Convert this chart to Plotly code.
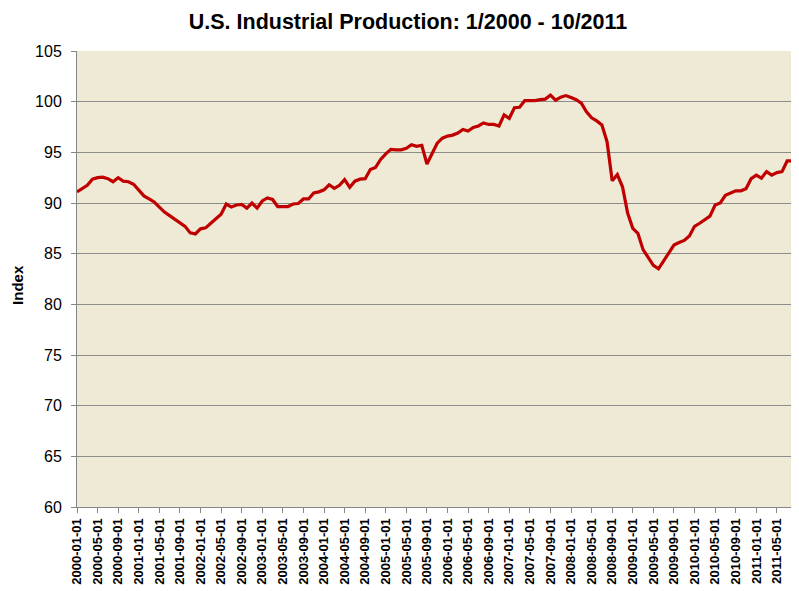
import plotly.graph_objects as go

# Monthly categories 2000-01 .. 2011-10
years = list(range(2000, 2012))
months = [f"{y}-{m:02d}-01" for y in years for m in range(1, 13)][:142]

# Industrial production index
index_values = [
    91.1, 91.4, 91.75, 92.35, 92.5, 92.55, 92.4, 92.1, 92.5, 92.15, 92.1, 91.85,   # 2000
    91.3, 90.7, 90.4, 90.1, 89.6, 89.1, 88.75, 88.4, 88.1, 87.7, 87.05, 86.95,     # 2001
    87.45, 87.55, 88.0, 88.4, 88.9, 89.9, 89.6, 89.8, 89.85, 89.5, 90.0, 89.5,     # 2002
    90.2, 90.5, 90.35, 89.65, 89.65, 89.65, 89.9, 89.95, 90.4, 90.4, 91.0, 91.1,   # 2003
    91.3, 91.8, 91.45, 91.75, 92.3, 91.55, 92.15, 92.35, 92.4, 93.3, 93.5, 94.3,   # 2004
    94.85, 95.3, 95.25, 95.25, 95.4, 95.75, 95.6, 95.7, 93.85, 94.9, 95.9, 96.4,   # 2005
    96.6, 96.7, 96.9, 97.25, 97.1, 97.45, 97.6, 97.9, 97.75, 97.75, 97.6, 98.7,    # 2006
    98.35, 99.4, 99.45, 100.1, 100.1, 100.1, 100.2, 100.25, 100.65, 100.15, 100.45, 100.6,  # 2007
    100.4, 100.2, 99.85, 99.0, 98.4, 98.1, 97.7, 96.05, 92.2, 92.8, 91.6, 89.0,    # 2008
    87.5, 87.0, 85.4, 84.6, 83.85, 83.5, 84.3, 85.1, 85.85, 86.1, 86.3, 86.75,     # 2009
    87.7, 88.0, 88.4, 88.7, 89.8, 90.0, 90.75, 90.95, 91.2, 91.2, 91.4, 92.4,      # 2010
    92.75, 92.45, 93.1, 92.75, 93.0, 93.1, 94.15, 94.15, 94.1, 94.1,               # 2011
]

tick_labels = months[::4]
y_ticks = list(range(60, 106, 5))

# page body has an 8px default margin, so the figure is offset by 8px
W, H = 791, 583
L, T, B = 69, 43, 84
plot_w = W - L

fig = go.Figure()
fig.add_trace(go.Scatter(
    x=months, y=index_values, mode="lines",
    line=dict(color="#C00000", width=3.2),
    hoverinfo="x+y", showlegend=False,
))

fig.update_layout(
    width=W, height=H,
    margin=dict(l=L, r=0, t=T, b=B, autoexpand=False),
    paper_bgcolor="white",
    plot_bgcolor="#EFEAD6",
    font=dict(family="Liberation Sans, Arial, sans-serif", color="#000000"),
    title=dict(
        text="<b>U.S. Industrial Production: 1/2000 - 10/2011</b>",
        x=(400 - L) / plot_w, xref="paper", xanchor="center",
        y=1 - 13.5 / H, yref="container", yanchor="middle",
        font=dict(size=21.5, color="#000000"),
        automargin=False,
    ),
    annotations=[dict(
        text="<b>Index</b>", textangle=-90, showarrow=False,
        xref="paper", yref="paper", x=(10 - L) / plot_w, y=0.487,
        xanchor="center", yanchor="middle",
        font=dict(size=15, color="#000000"),
    )],
)

fig.update_xaxes(
    type="category",
    range=[0, 140.3],
    automargin=False,
    tickmode="array", tickvals=tick_labels, ticktext=tick_labels,
    tickangle=-90,
    tickfont=dict(size=13, family="Liberation Sans, Arial, sans-serif", weight="bold"),
    showgrid=False,
    showline=True, linecolor="#868686", linewidth=1,
    ticks="outside", ticklen=5, tickcolor="#868686",
)
fig.update_yaxes(
    range=[60, 105],
    automargin=False,
    tickmode="array", tickvals=y_ticks,
    tickfont=dict(size=16),
    showgrid=True, gridcolor="#8C8C8C", gridwidth=1,
    showline=True, linecolor="#868686", linewidth=1,
    ticks="outside", ticklen=5, tickcolor="#868686",
    ticklabelstandoff=6,
    zeroline=False,
)

fig.write_html("out.html")
